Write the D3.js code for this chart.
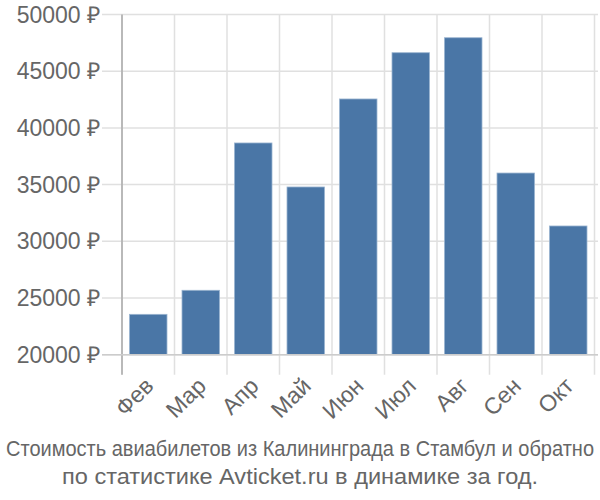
<!DOCTYPE html>
<html><head><meta charset="utf-8">
<script src="https://cdn.jsdelivr.net/npm/d3@7"></script>
<style>body{margin:0;background:#fff}svg{display:block}</style>
</head><body>
<script>
const months = ["Фев","Мар","Апр","Май","Июн","Июл","Авг","Сен","Окт"];
const prices = [23560, 25680, 38670, 34790, 42550, 46630, 47950, 36020, 31350];
const yTicks = [20000, 25000, 30000, 35000, 40000, 45000, 50000];
const titleLines = ["Стоимость авиабилетов из Калининграда в Стамбул и обратно","по статистике Avticket.ru в динамике за год."];
const titleWidths = [588, 476];

const W = 600, H = 500;
const m = {left:122, right:5.5, top:14.5, bottom:145.3};
const svg = d3.select("body").append("svg").attr("width",W).attr("height",H);
const x = d3.scaleBand().domain(months).range([m.left, W - m.right]).paddingInner(0.286).paddingOuter(0.143);
const y = d3.scaleLinear().domain([20000,50000]).range([H - m.bottom, m.top]);
const font = "'Liberation Sans', Arial, sans-serif";

// horizontal grid
svg.append("g").selectAll("line").data(yTicks).join("line")
  .attr("x1", 102).attr("x2", W - 2)
  .attr("y1", d=>y(d)).attr("y2", d=>y(d))
  .attr("stroke", "#e0e0e0").attr("stroke-width", 1.5);
// vertical grid
const step = x.step();
const vx = d3.range(months.length + 1).map(i => m.left + i*step);
svg.append("g").selectAll("line").data(vx).join("line")
  .attr("x1", d=>d).attr("x2", d=>d)
  .attr("y1", m.top).attr("y2", y(20000) + 20)
  .attr("stroke", "#e0e0e0").attr("stroke-width", 1.5);

// bars
svg.append("g").selectAll("rect").data(months).join("rect")
  .attr("x", d=>x(d)).attr("width", x.bandwidth())
  .attr("y", (d,i)=>y(prices[i])).attr("height", (d,i)=>y(20000)-y(prices[i]))
  .attr("fill", "#4a76a6").attr("stroke", "#9ab4d0").attr("stroke-width", 0.8);

// axes lines
svg.append("line").attr("x1", m.left).attr("x2", m.left).attr("y1", m.top).attr("y2", y(20000)+20)
  .attr("stroke", "#aaa").attr("stroke-width", 1.5);
svg.append("line").attr("x1", 102).attr("x2", W - 2).attr("y1", y(20000)).attr("y2", y(20000))
  .attr("stroke", "#ccc").attr("stroke-width", 1.5);

// y labels
svg.append("g").selectAll("text").data(yTicks).join("text")
  .attr("x", 100).attr("y", d=>y(d)).attr("dy","0.35em")
  .attr("text-anchor","end").attr("font-family", font).attr("font-size", 23).attr("fill","#666")
  .text(d => d + " ₽");

// x labels
svg.append("g").selectAll("text").data(months).join("text")
  .attr("transform", d => `translate(${x(d)+x.bandwidth()/2+1},${y(20000)+27}) rotate(-45)`)
  .attr("text-anchor","end").attr("dy","0.35em")
  .attr("font-family", font).attr("font-size", 23).attr("fill","#666")
  .text(d=>d);

// title
svg.append("g").selectAll("text").data(titleLines).join("text")
  .attr("transform", (d,i)=>`translate(${W/2},${456 + i*28}) scale(1,1.12)`)
  .attr("text-anchor","middle").attr("font-family", font).attr("font-size", 20).attr("fill","#666")
  .attr("textLength", (d,i)=>titleWidths[i]).attr("lengthAdjust","spacingAndGlyphs")
  .text(d=>d);
</script>
</body></html>
